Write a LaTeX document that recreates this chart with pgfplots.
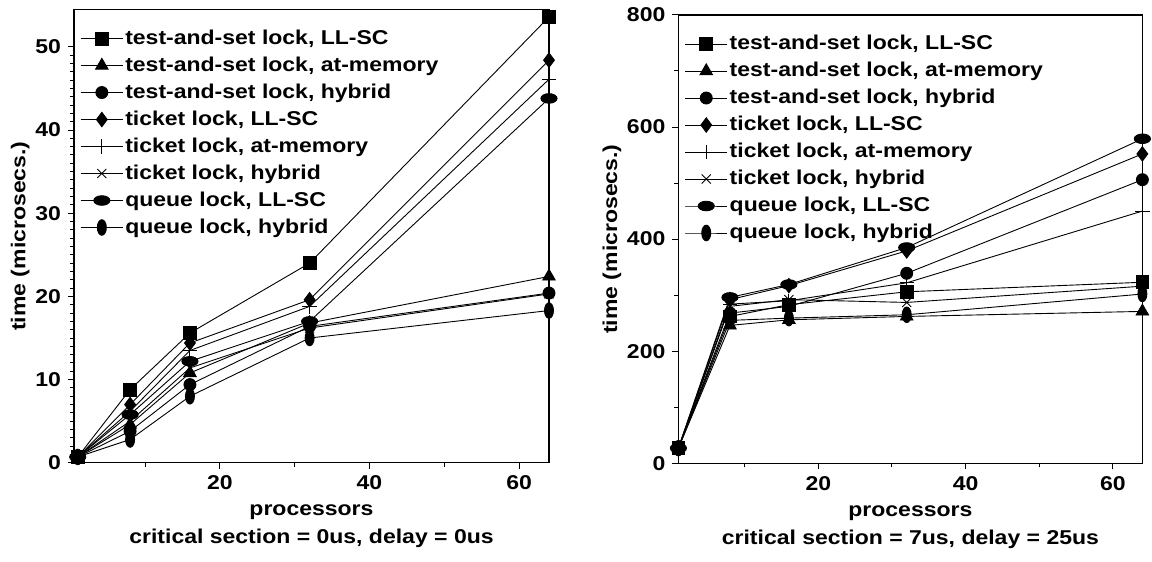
\documentclass[border=0pt]{standalone}
\usepackage{fontspec}
\setmainfont{Liberation Sans}[FakeStretch=1.15]
\usepackage{pgfplots}
\pgfplotsset{compat=1.18}
\begin{document}
\begin{tikzpicture}
\pgfplotsset{
  every axis/.append style={
    scale only axis,
    font=\fontsize{10}{14.5}\selectfont\bfseries,
    axis line style={line width=0.6pt},
    tick style={line width=0.5pt, black},
    tick align=outside,
    tick pos=left,
    major tick length=3pt,
    minor tick length=2pt,
    /pgf/number format/assume math mode=true,
    ticklabel style={font=\fontsize{10}{11}\selectfont\bfseries},
    xtick={20,40,60},
    minor xtick={10,30,50},
    xlabel style={align=center, font=\fontsize{10}{14.2}\selectfont\bfseries, yshift=-0.5pt},
    ylabel style={font=\fontsize{10}{11}\selectfont\bfseries},
    ylabel shift=-4pt,
    legend cell align=left,
    legend style={draw=none, fill=none, at={(0,1)}, anchor=north west,
      xshift=0pt, yshift=-7pt, row sep=2.75pt,
      font=\fontsize{10}{11}\selectfont\bfseries,
      nodes={inner sep=1pt}},
    legend image code/.code={\draw[mark repeat=2,mark phase=2] plot coordinates {(0pt,0pt) (10.5pt,0pt) (21pt,0pt)};},
    every axis plot/.append style={black, line width=0.45pt, mark options={solid}},
  },
  sq/.style={mark=square*, mark size=3.2pt},
  tr/.style={mark=triangle*, mark size=3.6pt},
  ci/.style={mark=*, mark size=3pt},
  di/.style={mark=diamond*, mark size=3.6pt},
  pl/.style={mark=+, mark size=3.6pt},
  xx/.style={mark=x, mark size=3.2pt},
  eh/.style={mark=*, mark size=3pt, mark options={xscale=1.35, yscale=0.8}},
  ev/.style={mark=*, mark size=3pt, mark options={xscale=0.75, yscale=1.3}},
}
\path (0,0) rectangle (576pt,281pt);
\begin{axis}[
  at={(37pt,49.6pt)}, anchor=south west,
  width=237.5pt, height=226.7pt,
  xmin=0.5, xmax=64, ymin=0, ymax=54.5,
  ytick={0,10,20,30,40,50},
  minor y tick num=9,
  xlabel={processors\\critical section = 0us, delay = 0us},
  ylabel={time (microsecs.)},
]
\addplot[sq] coordinates {(1,0.7) (8,8.8) (16,15.6) (32,24.0) (64,53.6)};
\addlegendentry{test-and-set lock, LL-SC}
\addplot[tr] coordinates {(1,0.7) (8,4.6) (16,10.8) (32,16.8) (64,22.4)};
\addlegendentry{test-and-set lock, at-memory}
\addplot[ci] coordinates {(1,0.7) (8,3.8) (16,9.4) (32,16.4) (64,20.4)};
\addlegendentry{test-and-set lock, hybrid}
\addplot[di] coordinates {(1,0.7) (8,7.0) (16,14.4) (32,19.6) (64,48.4)};
\addlegendentry{ticket lock, LL-SC}
\addplot[pl] coordinates {(1,0.7) (8,6.2) (16,13.5) (32,18.8) (64,46.1)};
\addlegendentry{ticket lock, at-memory}
\addplot[xx] coordinates {(1,0.7) (8,5.0) (16,11.4) (32,16.2) (64,20.3)};
\addlegendentry{ticket lock, hybrid}
\addplot[eh] coordinates {(1,0.7) (8,5.8) (16,12.2) (32,17.0) (64,43.8)};
\addlegendentry{queue lock, LL-SC}
\addplot[ev] coordinates {(1,0.7) (8,2.8) (16,8.0) (32,15.0) (64,18.3)};
\addlegendentry{queue lock, hybrid}
\end{axis}
\begin{axis}[
  at={(339.2pt,49.35pt)}, anchor=south west,
  width=232pt, height=224.2pt,
  xmin=1, xmax=64, ymin=0, ymax=800,
  ytick={0,200,400,600,800},
  minor y tick num=1,
  xlabel={processors\\critical section = 7us, delay = 25us},
  ylabel={time (microsecs.)},
]
\addplot[sq] coordinates {(1,27) (8,262) (16,283) (32,306) (64,323)};
\addlegendentry{test-and-set lock, LL-SC}
\addplot[tr] coordinates {(1,27) (8,246) (16,256) (32,262) (64,271)};
\addlegendentry{test-and-set lock, at-memory}
\addplot[ci] coordinates {(1,27) (8,268) (16,280) (32,339) (64,506)};
\addlegendentry{test-and-set lock, hybrid}
\addplot[di] coordinates {(1,27) (8,292) (16,317) (32,379) (64,552)};
\addlegendentry{ticket lock, LL-SC}
\addplot[pl] coordinates {(1,27) (8,284) (16,290) (32,322) (64,450)};
\addlegendentry{ticket lock, at-memory}
\addplot[xx] coordinates {(1,27) (8,280) (16,292) (32,287) (64,316)};
\addlegendentry{ticket lock, hybrid}
\addplot[eh] coordinates {(1,27) (8,296) (16,319) (32,385) (64,579)};
\addlegendentry{queue lock, LL-SC}
\addplot[ev] coordinates {(1,27) (8,255) (16,259) (32,265) (64,302)};
\addlegendentry{queue lock, hybrid}
\end{axis}
\end{tikzpicture}
\end{document}
